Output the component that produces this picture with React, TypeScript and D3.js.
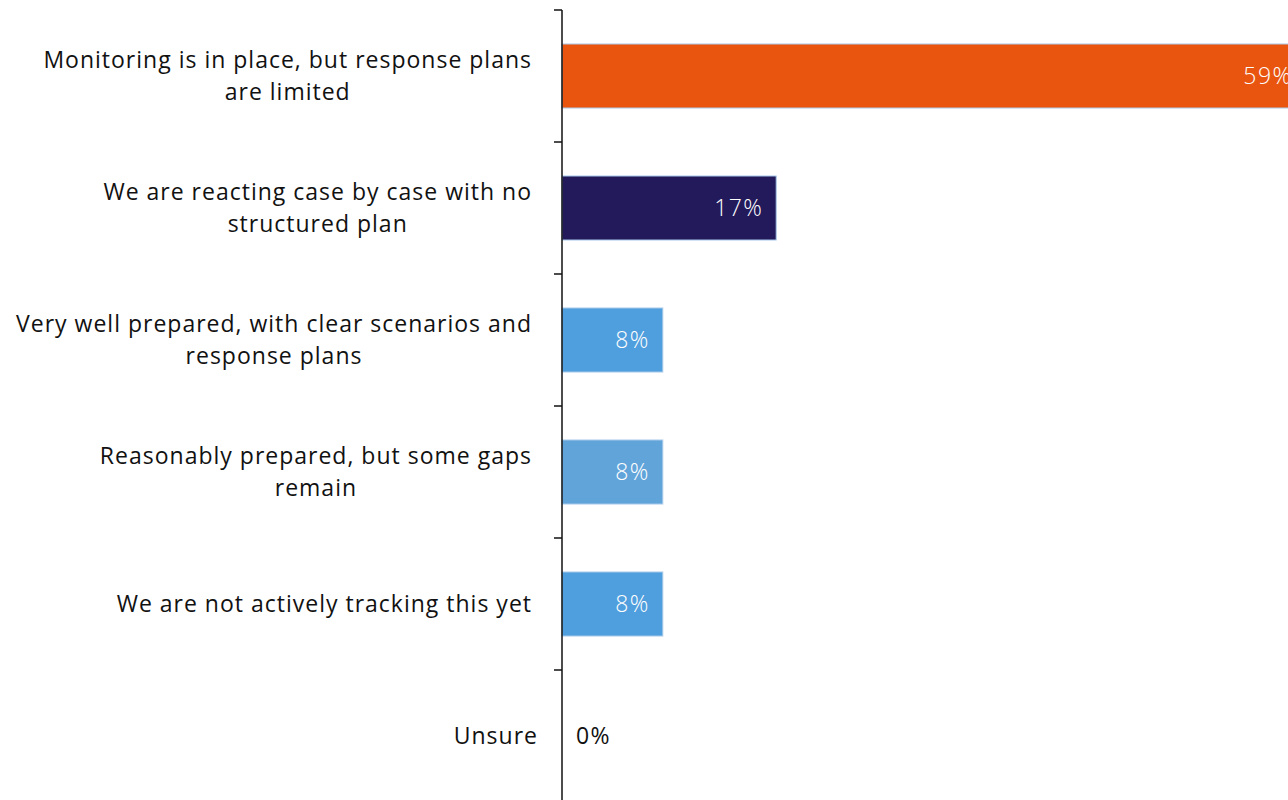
import React, { useLayoutEffect, useRef } from "react";
import * as d3 from "d3";

const categories: string[][] = [
  ["Monitoring is in place, but response plans", "are limited"],
  ["We are reacting case by case with no", "structured plan"],
  ["Very well prepared, with clear scenarios and", "response plans"],
  ["Reasonably prepared, but some gaps", "remain"],
  ["We are not actively tracking this yet"],
  ["Unsure"],
];
const values: number[] = [59, 17, 8, 8, 8, 0];
const valueLabels: string[] = ["59%", "17%", "8%", "8%", "8%", "0%"];
const colors: string[] = ["#E9550F", "#231A5C", "#4F9EDD", "#61A4DA", "#4F9EDD", "#4F9EDD"];

const W = 1288;
const H = 800;
const AXIS_X = 562;
const FONT = "'Open Sans', 'Noto Sans', sans-serif";
const FS = 23;
const LS = 1.0;

export default function App() {
  const ref = useRef<SVGSVGElement | null>(null);

  useLayoutEffect(() => {
    const svg = d3.select(ref.current);
    svg.selectAll("*").remove();

    const y = d3
      .scaleBand<number>()
      .domain(d3.range(values.length))
      .range([10, 802])
      .paddingInner(0.515)
      .paddingOuter(0.2575);
    const x = d3.scaleLinear().domain([0, 59]).range([AXIS_X, AXIS_X + 59 * 12.6]);
    const step = y.step();

    // bars
    svg
      .append("g")
      .selectAll("rect")
      .data(values)
      .join("rect")
      .attr("x", x(0))
      .attr("y", (_, i) => y(i)!)
      .attr("width", (d) => x(d) - x(0))
      .attr("height", y.bandwidth())
      .attr("fill", (_, i) => colors[i])
      .attr("stroke", (d) => (d > 0 ? "#A9CBEA" : "none"))
      .attr("stroke-width", 1);

    // value labels
    svg
      .append("g")
      .selectAll("text")
      .data(values)
      .join("text")
      .attr("x", (d) => (d > 0 ? x(d) - 14 + LS : x(d) + 14))
      .attr("y", (_, i) => y(i)! + y.bandwidth() / 2)
      .attr("dy", "0.35em")
      .attr("text-anchor", (d) => (d > 0 ? "end" : "start"))
      .attr("fill", (d) => (d > 0 ? "#ffffff" : "#111111"))
      .style("font-family", FONT)
      .style("font-size", `${FS}px`)
      .style("font-weight", (d) => (d > 0 ? 300 : 400))
      .style("letter-spacing", `${LS + 0.4}px`)
      .text((_, i) => valueLabels[i]);

    // axis line and ticks (ticks at band boundaries)
    const ax = svg.append("g");
    ax.append("line")
      .attr("x1", AXIS_X)
      .attr("x2", AXIS_X)
      .attr("y1", 10)
      .attr("y2", 810)
      .attr("stroke", "#111")
      .attr("stroke-width", 1.5);
    ax.selectAll("line.tick")
      .data(d3.range(values.length + 1))
      .join("line")
      .attr("class", "tick")
      .attr("x1", AXIS_X - 8)
      .attr("x2", AXIS_X)
      .attr("y1", (i) => 10 + i * step)
      .attr("y2", (i) => 10 + i * step)
      .attr("stroke", "#111")
      .attr("stroke-width", 1.5);

    // category labels
    const lineH = 32;
    const labelRight = 531 + LS;
    categories.forEach((lines, i) => {
      const cy = y(i)! + y.bandwidth() / 2;
      const g = svg.append("g");
      const texts = g
        .selectAll("text")
        .data(lines)
        .join("text")
        .attr("y", (_, j) => cy + (j - (lines.length - 1) / 2) * lineH)
        .attr("dy", "0.33em")
        .attr("text-anchor", "middle")
        .attr("fill", "#111111")
        .style("font-family", FONT)
        .style("font-size", `${FS}px`)
        .style("font-weight", 400)
        .style("letter-spacing", `${LS}px`)
        .text((d) => d);
      let maxW = 0;
      texts.each(function () {
        maxW = Math.max(maxW, (this as SVGTextElement).getComputedTextLength());
      });
      const right = lines.length === 1 && values[i] === 0 ? labelRight + 6 : labelRight;
      texts.attr("x", right - maxW / 2);
    });
  }, []);

  return (
    <svg
      ref={ref}
      width={W}
      height={H}
      style={{ position: "absolute", left: 0, top: 0, background: "#fff" }}
    />
  );
}
